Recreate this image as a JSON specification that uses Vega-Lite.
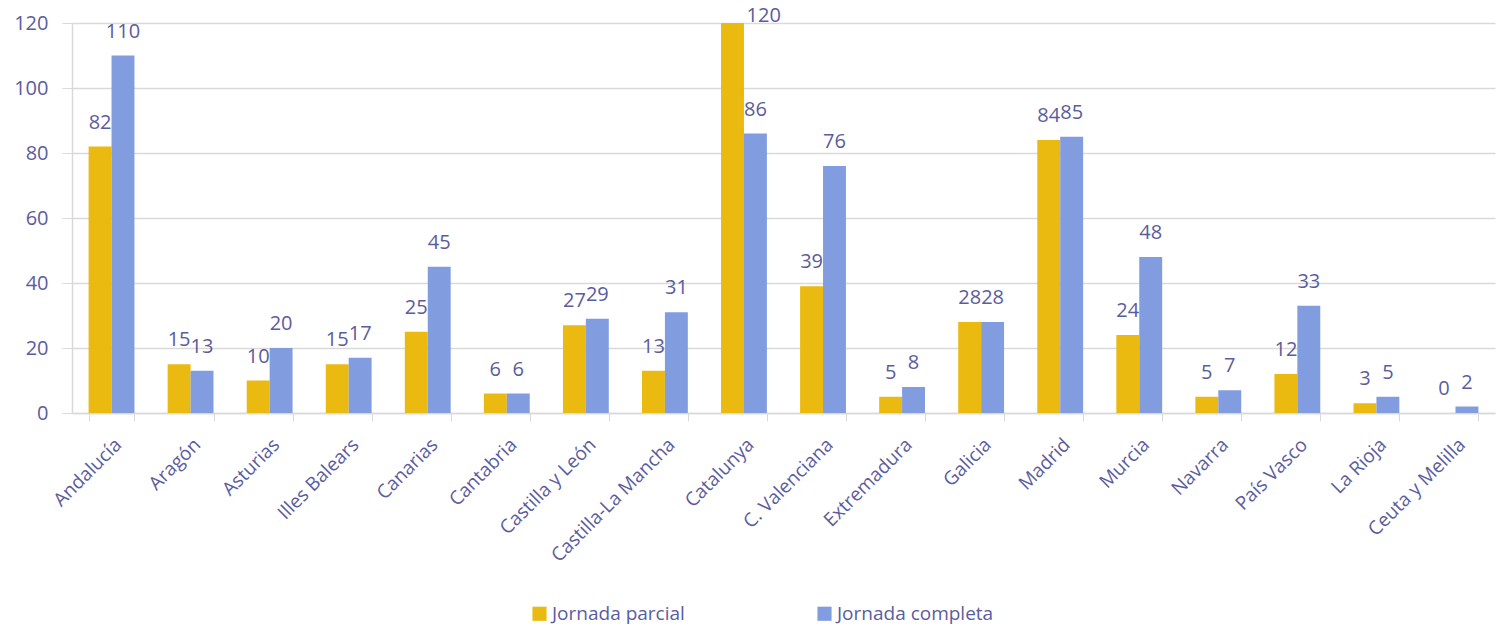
{
  "$schema": "https://vega.github.io/schema/vega-lite/v6.json",
  "width": 1423,
  "height": 390,
  "autosize": {"type": "none"},
  "padding": {"left": 72, "top": 23, "right": 11, "bottom": 215},
  "background": "white",
  "config": {
    "view": {"stroke": null},
    "font": "Open Sans"
  },
  "data": {
    "values": [
      {"region": "Andalucía", "tipo": "Jornada parcial", "valor": 82},
      {"region": "Andalucía", "tipo": "Jornada completa", "valor": 110},
      {"region": "Aragón", "tipo": "Jornada parcial", "valor": 15},
      {"region": "Aragón", "tipo": "Jornada completa", "valor": 13},
      {"region": "Asturias", "tipo": "Jornada parcial", "valor": 10},
      {"region": "Asturias", "tipo": "Jornada completa", "valor": 20},
      {"region": "Illes Balears", "tipo": "Jornada parcial", "valor": 15},
      {"region": "Illes Balears", "tipo": "Jornada completa", "valor": 17},
      {"region": "Canarias", "tipo": "Jornada parcial", "valor": 25},
      {"region": "Canarias", "tipo": "Jornada completa", "valor": 45},
      {"region": "Cantabria", "tipo": "Jornada parcial", "valor": 6},
      {"region": "Cantabria", "tipo": "Jornada completa", "valor": 6},
      {"region": "Castilla y León", "tipo": "Jornada parcial", "valor": 27},
      {"region": "Castilla y León", "tipo": "Jornada completa", "valor": 29},
      {"region": "Castilla-La Mancha", "tipo": "Jornada parcial", "valor": 13},
      {"region": "Castilla-La Mancha", "tipo": "Jornada completa", "valor": 31},
      {"region": "Catalunya", "tipo": "Jornada parcial", "valor": 120},
      {"region": "Catalunya", "tipo": "Jornada completa", "valor": 86},
      {"region": "C. Valenciana", "tipo": "Jornada parcial", "valor": 39},
      {"region": "C. Valenciana", "tipo": "Jornada completa", "valor": 76},
      {"region": "Extremadura", "tipo": "Jornada parcial", "valor": 5},
      {"region": "Extremadura", "tipo": "Jornada completa", "valor": 8},
      {"region": "Galicia", "tipo": "Jornada parcial", "valor": 28},
      {"region": "Galicia", "tipo": "Jornada completa", "valor": 28},
      {"region": "Madrid", "tipo": "Jornada parcial", "valor": 84},
      {"region": "Madrid", "tipo": "Jornada completa", "valor": 85},
      {"region": "Murcia", "tipo": "Jornada parcial", "valor": 24},
      {"region": "Murcia", "tipo": "Jornada completa", "valor": 48},
      {"region": "Navarra", "tipo": "Jornada parcial", "valor": 5},
      {"region": "Navarra", "tipo": "Jornada completa", "valor": 7},
      {"region": "País Vasco", "tipo": "Jornada parcial", "valor": 12},
      {"region": "País Vasco", "tipo": "Jornada completa", "valor": 33},
      {"region": "La Rioja", "tipo": "Jornada parcial", "valor": 3},
      {"region": "La Rioja", "tipo": "Jornada completa", "valor": 5},
      {"region": "Ceuta  y Melilla", "tipo": "Jornada parcial", "valor": 0},
      {"region": "Ceuta  y Melilla", "tipo": "Jornada completa", "valor": 2}
    ]
  },
  "encoding": {
    "x": {
      "field": "region",
      "type": "nominal",
      "sort": null,
      "scale": {"paddingInner": 0.42, "paddingOuter": 0.21},
      "axis": {
        "title": null,
        "labelAngle": -45,
        "labelAlign": "right",
        "labelBaseline": "top",
        "labelFontSize": 19,
        "labelColor": "#5B5C9E",
        "labelPadding": 14,
        "domainColor": "#D9D9D9",
        "domainWidth": 1.5,
        "tickColor": "#D9D9D9",
        "tickBand": "extent",
        "tickSize": 8
      }
    },
    "xOffset": {
      "field": "tipo",
      "type": "nominal",
      "sort": ["Jornada parcial", "Jornada completa"],
      "scale": {"paddingInner": 0}
    },
    "y": {
      "field": "valor",
      "type": "quantitative",
      "scale": {"domain": [0, 120], "nice": false},
      "axis": {
        "title": null,
        "values": [0, 20, 40, 60, 80, 100, 120],
        "labelFontSize": 20,
        "labelColor": "#5B5C9E",
        "labelPadding": 14,
        "gridColor": "#D9D9D9",
        "gridWidth": 1.5,
        "domainColor": "#D9D9D9",
        "domainWidth": 1.5,
        "tickColor": "#D9D9D9",
        "tickSize": 10
      }
    }
  },
  "layer": [
    {
      "mark": {"type": "bar"},
      "encoding": {
        "color": {
          "field": "tipo",
          "type": "nominal",
          "sort": ["Jornada parcial", "Jornada completa"],
          "scale": {
            "domain": ["Jornada parcial", "Jornada completa"],
            "range": ["#EBBA10", "#829CE0"]
          },
          "legend": {
            "title": null,
            "orient": "none",
            "legendX": 458,
            "legendY": 581,
            "direction": "horizontal",
            "symbolType": "square",
            "symbolSize": 200,
            "symbolStrokeWidth": 0,
            "symbolOpacity": 1,
            "labelFontSize": 19,
            "labelColor": "#5B5C9E",
            "labelOffset": 3,
            "columnPadding": 130
          }
        }
      }
    },
    {
      "transform": [{"filter": "datum.valor < 120"}],
      "mark": {"type": "text", "baseline": "bottom", "dy": -14, "fontSize": 20, "color": "#5B5C9E"},
      "encoding": {
        "text": {"field": "valor", "type": "quantitative"}
      }
    },
    {
      "transform": [{"filter": "datum.valor >= 120"}],
      "mark": {"type": "text", "baseline": "bottom", "align": "left", "dx": 14, "dy": 3, "fontSize": 20, "color": "#5B5C9E"},
      "encoding": {
        "text": {"field": "valor", "type": "quantitative"}
      }
    }
  ]
}
